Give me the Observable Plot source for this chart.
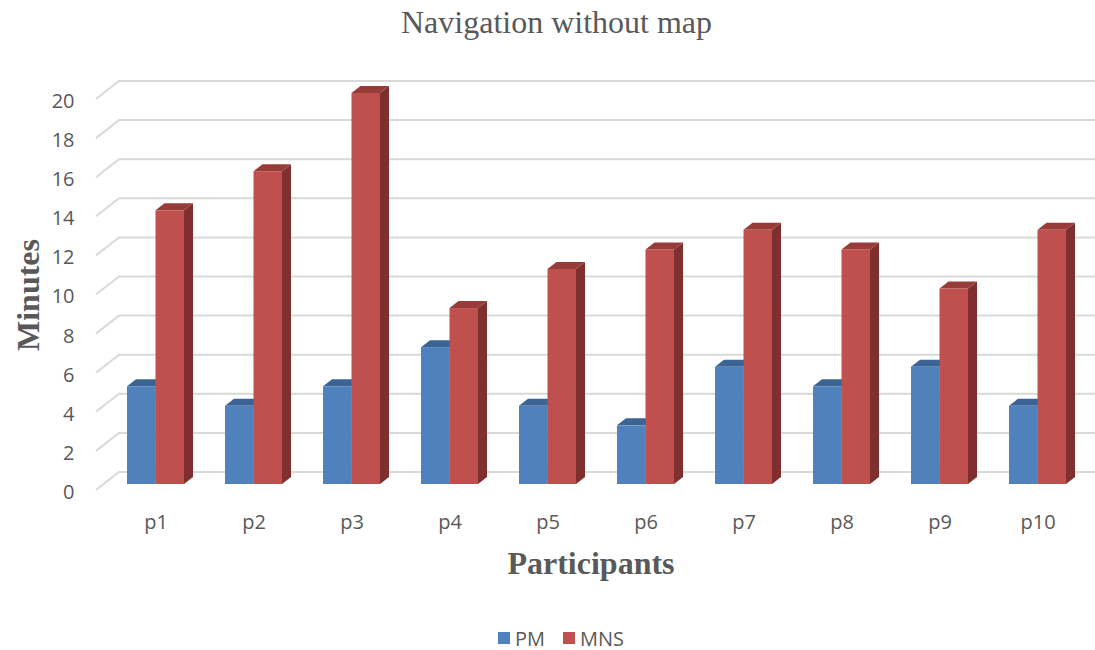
<!DOCTYPE html>
<html>
<head>
<meta charset="utf-8">
<script src="https://cdn.jsdelivr.net/npm/d3@7"></script>
<script src="https://cdn.jsdelivr.net/npm/@observablehq/plot@0.6"></script>
<style>
  html, body { margin: 0; padding: 0; background: #fff; }
  #chart { width: 1095px; }
  .title { height: 45px; line-height: 45px; text-align: center; padding-left: 18px; box-sizing: border-box;
           font-family: "Liberation Serif", "Times New Roman", serif; font-size: 32px; color: #595959; }
  .legend { display: flex; justify-content: center; align-items: center; height: 28px; margin-top: 24px;
            font-family: "Open Sans", sans-serif; font-size: 20px; color: #595959; padding-left: 27px; }
  .legend .item { display: flex; align-items: center; margin: 0 9px; }
  .legend .sw { width: 12px; height: 12px; margin-right: 5px; }
</style>
</head>
<body>
<div id="chart"></div>
<script>
// Time needed to navigate without a map, per participant
const participants = ["p1", "p2", "p3", "p4", "p5", "p6", "p7", "p8", "p9", "p10"];
const pmMinutes  = [5, 4, 5, 7, 4, 3, 6, 5, 6, 4];
const mnsMinutes = [14, 16, 20, 9, 11, 12, 13, 12, 10, 13];
const seriesNames = ["PM", "MNS"];
const yTicks = [0, 2, 4, 6, 8, 10, 12, 14, 16, 18, 20];

const colors = {
  PM:  {front: "#4F81BD", top: "#3B6494", side: "#36598A"},
  MNS: {front: "#C0504D", top: "#983C3A", side: "#7F302E"}
};
const textGray = "#595959";
const depth = {dx: 9, dy: 7};

const pmRows  = participants.map((p, i) => ({participant: p, series: "PM",  minutes: pmMinutes[i]}));
const mnsRows = participants.map((p, i) => ({participant: p, series: "MNS", minutes: mnsMinutes[i]}));

// Adds a top face and a right side face to each rendered bar rectangle
function extrude(c) {
  return (index, scales, values, dims, context, next) => {
    const g = next(index, scales, values, dims, context);
    const ns = "http://www.w3.org/2000/svg";
    for (const r of Array.from(g.querySelectorAll("rect"))) {
      const x = +r.getAttribute("x"), y = +r.getAttribute("y");
      const w = +r.getAttribute("width"), h = +r.getAttribute("height");
      const x1 = x + w, y1 = y + h;
      const top = document.createElementNS(ns, "polygon");
      top.setAttribute("points", `${x},${y} ${x1},${y} ${x1 + depth.dx},${y - depth.dy} ${x + depth.dx},${y - depth.dy}`);
      top.setAttribute("fill", c.top);
      const side = document.createElementNS(ns, "polygon");
      side.setAttribute("points", `${x1},${y} ${x1 + depth.dx},${y - depth.dy} ${x1 + depth.dx},${y1 - depth.dy} ${x1},${y1}`);
      side.setAttribute("fill", c.side);
      r.parentNode.insertBefore(side, r);
      r.parentNode.insertBefore(top, r);
    }
    return g;
  };
}

// Back-wall gridlines with the short diagonal running to the front edge
function wallGrid(index, scales, values, dims) {
  const g = d3.create("svg:g");
  const left = dims.marginLeft;
  for (const v of yTicks) {
    const y = scales.y(v);
    g.append("path")
      .attr("d", `M${left - 7},${y + 6}L${left + 16},${y - 12}L${dims.width},${y - 12}`)
      .attr("fill", "none")
      .attr("stroke", "#D9D9D9")
      .attr("stroke-width", 2);
  }
  return g.node();
}

const chart = Plot.plot({
  width: 1095,
  height: 555,
  marginLeft: 103,
  marginRight: 5,
  marginTop: 48,
  marginBottom: 116,
  style: {fontFamily: "'Open Sans', sans-serif", fontSize: "20px", color: textGray, background: "#fff"},
  x: {type: "band", domain: participants, paddingInner: 0.42, paddingOuter: 0.21},
  y: {domain: [0, 20]},
  marks: [
    Plot.ruleY(yTicks, {render: wallGrid}),
    Plot.barY(pmRows, {x: "participant", y: "minutes", fill: colors.PM.front, insetRight: 28.5,
      render: extrude(colors.PM)}),
    Plot.barY(mnsRows, {x: "participant", y: "minutes", fill: colors.MNS.front, insetLeft: 28.5,
      render: extrude(colors.MNS)}),
    Plot.axisY({ticks: yTicks, tickSize: 0, tickPadding: 29, dy: 8, label: null, fill: textGray}),
    Plot.axisX({tickSize: 0, tickPadding: 30, label: null, fill: textGray}),
    Plot.text(["Minutes"], {frameAnchor: "left", textAnchor: "middle", lineAnchor: "middle",
      dx: -75, dy: 6, rotate: -90,
      fontFamily: "'Liberation Serif', serif", fontWeight: "bold", fontSize: 32, fill: textGray}),
    Plot.text(["Participants"], {frameAnchor: "bottom", textAnchor: "middle", lineAnchor: "middle",
      dy: 79, dx: -6,
      fontFamily: "'Liberation Serif', serif", fontWeight: "bold", fontSize: 32, fill: textGray})
  ]
});

const root = document.getElementById("chart");
const title = document.createElement("div");
title.className = "title";
title.textContent = "Navigation without map";
root.appendChild(title);
root.appendChild(chart);

const legend = document.createElement("div");
legend.className = "legend";
for (const s of seriesNames) {
  const item = document.createElement("div");
  item.className = "item";
  const sw = document.createElement("span");
  sw.className = "sw";
  sw.style.background = colors[s].front;
  const label = document.createElement("span");
  label.textContent = s;
  item.appendChild(sw);
  item.appendChild(label);
  legend.appendChild(item);
}
root.appendChild(legend);
</script>
</body>
</html>
